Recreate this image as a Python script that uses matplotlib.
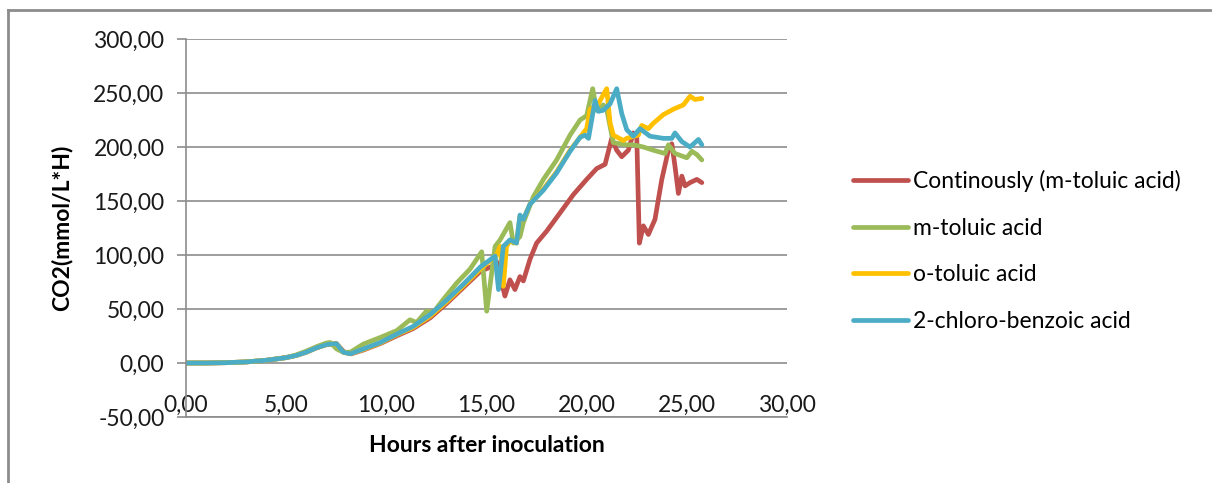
import matplotlib
matplotlib.use('Agg')
import matplotlib.pyplot as plt
from matplotlib.ticker import FuncFormatter
from matplotlib.lines import Line2D

plt.rcParams['font.family'] = ['Lato', 'DejaVu Sans']

# hours after inoculation / CO2 (mmol/L*H)
cont_h = [0, 1, 2, 3, 4, 5, 5.5, 6, 6.5, 7.0, 7.5, 7.9, 8.25, 8.85, 9.7, 10.5, 11.35, 12.2, 13.0,
          13.85, 14.7, 15.35, 15.5, 15.92, 16.17, 16.42, 16.67, 16.84, 17.17, 17.5, 18.0, 18.67,
          19.34, 20.0, 20.5, 20.92, 21.25, 21.5, 21.75, 22.08, 22.33, 22.5, 22.63, 22.83, 23.08,
          23.41, 23.75, 24.08, 24.25, 24.41, 24.58, 24.75, 24.91, 25.16, 25.5, 25.75]
cont_co2 = [0, 0, 0.3, 1, 2.5, 5, 7, 10, 14, 17, 18, 10, 8.5, 12, 18, 25, 32, 42, 55,
            70, 85, 90, 94, 62, 77, 68, 80, 76, 96, 111, 122, 139,
            156, 170, 180, 184, 208, 197, 191, 197, 213, 210, 111, 127, 119,
            133, 170, 197, 203, 182, 157, 173, 164, 167, 170, 167]

mtol_h = [0, 1, 2, 3, 4, 5, 5.5, 6, 6.5, 7.0, 7.2, 7.52, 7.85, 8.2, 8.85, 9.68, 10.52, 11.18,
          11.51, 12.0, 12.35, 12.85, 13.51, 14.18, 14.76, 15.01, 15.43, 15.68, 16.17, 16.34,
          16.67, 16.84, 17.34, 17.84, 18.5, 19.17, 19.67, 20.0, 20.3, 20.5, 20.83, 21.0, 21.33,
          22.0, 22.33, 22.83, 23.33, 23.91, 24.08, 24.41, 25.0, 25.25, 25.5, 25.75]
mtol_co2 = [0, 0, 0.3, 1, 2.5, 5, 7.5, 11, 15, 18.5, 19, 13, 10, 10, 17.5, 23.5, 30, 40,
            37.5, 48, 47, 59, 74, 87, 103, 48, 108, 114, 130, 111,
            117, 130, 154, 170, 188, 211, 225, 229, 254, 234, 239, 235, 204,
            202, 202, 200, 197, 194, 202, 194, 190, 196, 193, 188]

otol_h = [0, 1, 2, 3, 4, 5, 5.5, 6, 6.5, 7.0, 7.5, 7.85, 8.2, 8.85, 9.7, 10.5, 11.35, 12.2, 13.0,
          13.85, 14.7, 15.5, 15.68, 15.84, 16.0, 16.17, 16.5, 16.67, 16.84, 17.17, 17.84, 18.5,
          19.17, 19.67, 20.0, 20.17, 20.58, 21.0, 21.17, 21.33, 21.83, 22.0, 22.58, 22.75, 23.08,
          23.33, 23.83, 24.33, 24.83, 25.16, 25.41, 25.75]
otol_co2 = [0, 0, 0.3, 1, 2.5, 5, 7, 10, 14, 17, 18, 10, 8.5, 12.5, 18.5, 26, 33, 43.5, 56.5,
            71.5, 87, 100, 108, 71, 108, 113, 111, 136, 133, 147, 161, 177,
            197, 209, 217, 235, 240, 254, 222, 211, 206, 208, 211, 220, 217,
            222, 230, 235, 239, 247, 244, 245]

cbenz_h = [0, 1, 2, 3, 4, 5, 5.5, 6, 6.5, 7.0, 7.5, 7.85, 8.2, 8.85, 9.7, 10.5, 11.35, 12.2, 13.0,
           13.85, 14.7, 15.43, 15.6, 15.84, 16.17, 16.5, 16.67, 16.84, 17.17, 17.84, 18.5, 19.17,
           19.67, 19.92, 20.09, 20.42, 20.58, 20.83, 21.17, 21.5, 21.75, 22.0, 22.33, 22.66, 23.16,
           23.83, 24.25, 24.41, 24.75, 25.16, 25.58, 25.75]
cbenz_co2 = [0, 0, 0.3, 1, 2.5, 5, 7, 10, 14, 17, 18, 10, 8.5, 13, 19, 26.5, 34, 45, 58,
             73, 89, 99, 68, 108, 114, 111, 137, 133, 147, 160, 176, 196,
             209, 211, 208, 243, 233, 234, 240, 254, 231, 216, 210, 217, 210,
             208, 208, 213, 205, 200, 207, 202]

series = [(cont_h, cont_co2, 'Continously (m-toluic acid)', '#C0504D'),
          (mtol_h, mtol_co2, 'm-toluic acid', '#9BBB59'),
          (otol_h, otol_co2, 'o-toluic acid', '#FFC000'),
          (cbenz_h, cbenz_co2, '2-chloro-benzoic acid', '#4BACC6')]


def comma_fmt(v, pos):
    return ('%.2f' % v).replace('.', ',')


fig = plt.figure(figsize=(12.12, 4.83), dpi=100)
ax = fig.add_axes([186/1212, 66/483, 601/1212, 378/483])

for h, co2, label, color in series:
    ax.plot(h, co2, color=color, lw=3.4, label=label,
            solid_joinstyle='round', solid_capstyle='round')

ax.set_xlim(0, 30)
ax.set_ylim(-50, 300)
ax.set_xticks(range(0, 31, 5))
ax.set_yticks(range(-50, 301, 50))
ax.xaxis.set_major_formatter(FuncFormatter(comma_fmt))
ax.yaxis.set_major_formatter(FuncFormatter(comma_fmt))
ax.grid(True, axis='y', color='#8c8c8c', lw=1.2)
ax.set_axisbelow(True)
for s in ['top', 'right']:
    ax.spines[s].set_visible(False)
for s in ['left', 'bottom']:
    ax.spines[s].set_color('#8c8c8c')
    ax.spines[s].set_linewidth(1.2)
ax.tick_params(axis='y', length=6.5, width=1.2, color='#8c8c8c', pad=9,
               labelsize=16.5, labelcolor='#1a1a1a')
ax.tick_params(axis='x', length=0, pad=-16, labelsize=16.5, labelcolor='#1a1a1a')

ax.set_xlabel('Hours after inoculation', fontsize=16.5, fontweight='bold', labelpad=13)
ax.set_ylabel('CO2(mmol/L*H)', fontsize=16.5, fontweight='bold', labelpad=15)

fig.legend(loc='center left', bbox_to_anchor=(853/1212, 1 - 251/483), frameon=False,
           fontsize=16.5, handlelength=2.4, handletextpad=0.2, labelspacing=1.12,
           borderpad=0, borderaxespad=0)

# outer chart frame (only top and left edges are inside the picture)
fig.add_artist(Line2D([8/1212, 1.0], [1 - 10/483, 1 - 10/483], color='#8c8c8c', lw=2))
fig.add_artist(Line2D([8/1212, 8/1212], [0, 1 - 10/483], color='#8c8c8c', lw=2))

plt.savefig('out.png', dpi=100)
